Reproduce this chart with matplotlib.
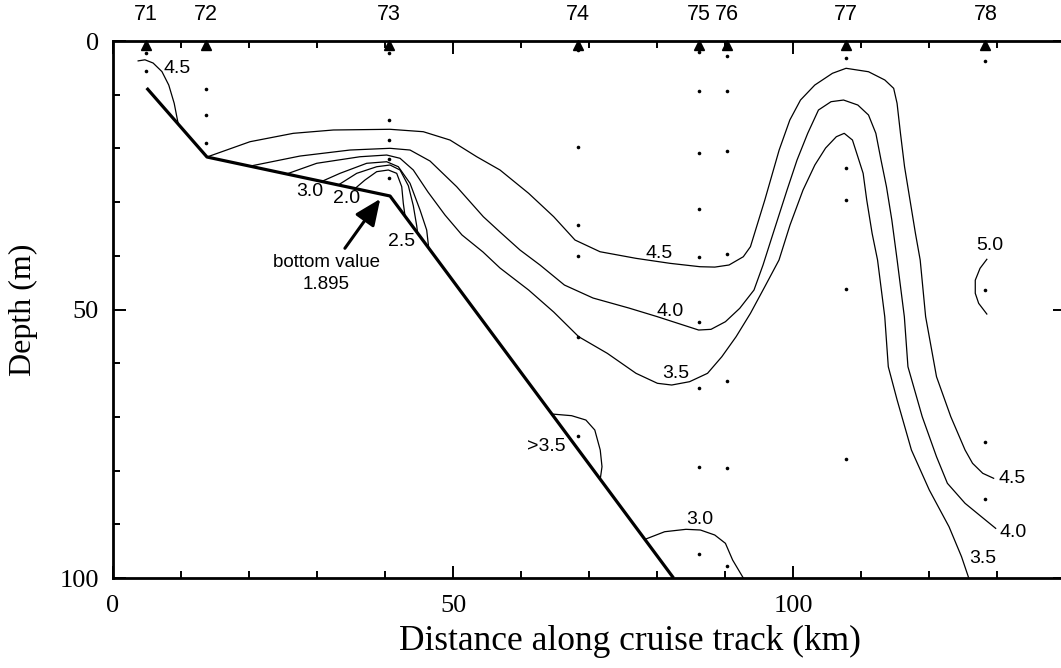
import matplotlib.pyplot as plt
from matplotlib.ticker import MultipleLocator, FixedLocator

plt.rcParams['font.family'] = 'Liberation Serif'

# stations along the track (km) and their sample depths (m)
stations = ['71', '72', '73', '74', '75', '76', '77', '78']
station_km = [4.85, 13.7, 40.6, 68.4, 86.2, 90.3, 107.8, 128.3]
sample_depths = [
    [2.3, 5.5],
    [1.1, 9.0, 13.8, 18.9],
    [2.3, 14.7, 18.4, 22.0, 25.5],
    [1.7, 19.7, 34.3, 40.0, 55.2, 73.5],
    [2.0, 9.3, 20.9, 31.3, 40.2, 52.4, 64.6, 79.4, 95.5],
    [2.8, 9.3, 20.5, 39.7, 63.3, 79.6, 97.7],
    [3.2, 23.7, 29.6, 46.1, 77.8],
    [3.7, 46.4, 74.7, 85.2],
]

# bottom profile
bottom_km = [4.95, 13.82, 40.74, 82.43]
bottom_m = [8.75, 21.6, 28.86, 100.0]

# hand drawn isolines (km, m)
c45_shelf_km = [3.7, 4.7, 5.9, 7.2, 8.2, 9.0, 9.6]
c45_shelf_m = [3.7, 3.5, 4.1, 5.7, 8.2, 11.6, 15.5]

c45_km = [13.82, 20.15, 26.51, 32.4, 40.74, 45.63, 49.56, 53.49, 56.91, 61.12,
          64.81, 67.94, 71.62, 76.91, 81.91, 86.32, 88.5, 90.59, 92.69, 93.74,
          95.85, 97.96, 99.53, 101.1, 103.2, 105.8, 107.8, 111.1, 113.5, 114.8,
          115.3, 115.8, 116.4, 117.2, 118.0, 118.7, 119.5, 121.1, 123.2, 125.3,
          126.4, 127.9, 129.5]
c45_m = [21.6, 18.75, 17.19, 16.57, 16.44, 16.89, 18.44, 21.55, 24.02, 28.36,
         32.72, 37.06, 39.24, 40.47, 41.4, 42.03, 42.1, 41.71, 40.17, 38.3,
         29.61, 20.3, 14.71, 10.99, 8.2, 6.01, 5.08, 5.72, 7.26, 8.81,
         11.6, 17.19, 23.4, 29.61, 35.81, 40.78, 51.33, 62.51, 69.96, 76.16,
         78.64, 80.5, 81.43]

c40_km = [20.15, 27.5, 34.85, 40.74, 43.68, 46.62, 50.54, 54.46, 56.91, 59.85,
          62.79, 66.38, 70.59, 75.85, 80.06, 86.12, 87.94, 90.06, 92.16, 94.26,
          95.59, 96.76, 97.94, 99.12, 100.59, 102.16, 103.74, 105.59, 107.43, 109.53,
          111.1, 112.18, 112.94, 113.74, 114.53, 115.31, 116.37, 116.9, 119.0, 121.1,
          122.7, 125.3, 127.7, 129.8]
c40_m = [23.3, 21.42, 20.3, 19.98, 20.3, 22.35, 27.13, 32.72, 35.57, 38.92,
         41.71, 45.44, 47.86, 49.72, 51.34, 53.82, 53.69, 52.27, 49.78, 46.37,
         41.71, 37.06, 32.4, 27.75, 22.16, 17.19, 12.85, 11.3, 10.99, 11.92,
         13.78, 17.19, 22.16, 27.13, 33.33, 40.78, 51.34, 60.65, 69.96, 77.41,
         82.36, 86.09, 88.58, 90.75]

c35_km = [25.54, 29.96, 36.32, 40.25, 42.21, 44.16, 46.32, 48.82, 51.32, 54.41,
          56.91, 61.12, 64.81, 68.48, 72.69, 76.91, 80.06, 82.16, 84.79, 87.43,
          89.53, 91.63, 93.74, 95.85, 97.94, 99.56, 101.47, 103.21, 104.79, 106.37,
          107.53, 108.74, 109.53, 110.31, 110.84, 111.63, 112.43, 113.49, 114.01, 115.31,
          117.41, 120.04, 122.94, 124.78, 125.84]
c35_m = [24.76, 22.77, 21.55, 21.23, 21.84, 24.02, 28.12, 32.4, 36.12, 39.29,
         42.27, 46.37, 50.47, 55.06, 58.16, 61.88, 63.74, 64.06, 63.44, 61.88,
         58.79, 55.06, 50.71, 45.75, 40.78, 34.26, 27.75, 23.09, 19.93, 17.82,
         17.19, 18.44, 21.55, 24.64, 29.61, 35.81, 40.78, 51.34, 60.65, 66.85,
         76.16, 83.61, 90.45, 96.03, 100.0]

c30_km = [30.69, 33.38, 37.31, 40.25, 41.96, 43.68, 45.15, 46.13, 46.45]
c30_m = [26.15, 24.64, 22.77, 22.48, 23.41, 26.5, 31.47, 35.2, 38.8]

c25_km = [33.13, 35.84, 38.78, 40.74, 42.21, 43.43, 44.16, 44.66, 44.8]
c25_m = [26.81, 24.64, 23.41, 23.09, 24.02, 26.94, 30.66, 34.4, 35.8]

c20_km = [35.59, 37.06, 38.78, 40.49, 41.72, 42.46, 42.69, 42.95]
c20_m = [27.47, 25.88, 24.33, 24.02, 24.64, 27.13, 30.22, 32.6]

c35_pocket_km = [64.54, 67.44, 69.54, 70.85, 71.65, 71.91, 71.65]
c35_pocket_m = [69.46, 69.77, 70.58, 72.44, 76.16, 79.27, 81.6]

c30_pocket_km = [78.22, 81.12, 84.26, 86.38, 88.49, 90.06, 91.12, 92.69]
c30_pocket_m = [92.8, 91.38, 90.93, 91.06, 91.99, 93.54, 96.65, 100.0]

c50_km = [128.5, 127.5, 126.8, 126.8, 127.3, 128.5]
c50_m = [40.65, 42.33, 44.54, 46.98, 48.85, 50.84]

# isoline labels
label_text = ['4.5', '3.0', '2.0', '2.5', '4.5', '4.0', '3.5', '>3.5', '3.0',
              '5.0', '4.5', '4.0', '3.5']
label_km = [9.4, 29.0, 34.4, 42.5, 80.3, 81.9, 82.7, 63.75, 86.3,
            128.9, 132.2, 132.4, 127.9]
label_m = [5.1, 28.1, 29.4, 37.4, 39.5, 50.4, 61.9, 75.55, 89.1,
           38.0, 81.4, 91.6, 96.3]

note_lines = ['bottom value', '1.895']
note_km = 31.4
note_m = [41.3, 45.4]

fig = plt.figure(figsize=(10.61, 6.68), dpi=100)
ax = fig.add_axes([0.1065, 0.1347, 0.8973, 0.8039])

thin = dict(color='black', lw=0.9, solid_joinstyle='round')
for xs, ds in [(c45_shelf_km, c45_shelf_m), (c45_km, c45_m), (c40_km, c40_m),
               (c35_km, c35_m), (c30_km, c30_m), (c25_km, c25_m), (c20_km, c20_m),
               (c35_pocket_km, c35_pocket_m), (c30_pocket_km, c30_pocket_m),
               (c50_km, c50_m)]:
    ax.plot(xs, ds, **thin)

ax.plot(bottom_km, bottom_m, color='black', lw=2.3, solid_capstyle='butt')

# samples
for km, ds in zip(station_km, sample_depths):
    ax.plot([km] * len(ds), ds, 'o', color='black', ms=2.6, mew=0)

# station markers and names
ax.plot(station_km, [0.8] * len(station_km), '^', color='black', ms=6.5,
        clip_on=False, zorder=5)
for km, name in zip(station_km, stations):
    ax.text(km, -5.0, name, ha='center', va='center', fontsize=15.5,
            family='Liberation Sans', clip_on=False)

for t, km, d in zip(label_text, label_km, label_m):
    ax.text(km, d, t, ha='center', va='center', fontsize=14, family='Liberation Sans')
for t, d in zip(note_lines, note_m):
    ax.text(note_km, d, t, ha='center', va='center', fontsize=13.5,
            family='Liberation Sans')

ax.annotate('', xy=(39.3, 29.4), xytext=(34.1, 38.6),
            arrowprops=dict(arrowstyle='-|>,head_length=0.8,head_width=0.35',
                            color='black', lw=2.2, mutation_scale=20,
                            shrinkA=0, shrinkB=0))

ax.set_xlim(0, 140)
ax.set_ylim(100, 0)
ax.xaxis.set_major_locator(FixedLocator([0, 50, 100]))
ax.xaxis.set_minor_locator(MultipleLocator(10))
ax.yaxis.set_major_locator(FixedLocator([0, 50, 100]))
ax.yaxis.set_minor_locator(MultipleLocator(10))
ax.tick_params(which='both', direction='in', top=True, right=True, width=1.4,
               labelsize=19)
ax.tick_params(which='major', length=9)
ax.tick_params(which='minor', length=5, right=False)
ax.tick_params(axis='x', pad=12)
ax.tick_params(axis='y', pad=10)
for s in ax.spines.values():
    s.set_linewidth(2.0)

ax.set_xlabel('Distance along cruise track (km)', fontsize=25.5, ha='left')
ax.xaxis.set_label_coords(0.3, -0.088)
ax.set_ylabel('Depth (m)', fontsize=23)
ax.yaxis.set_label_coords(-0.079, 0.5)

fig.savefig('out.png', dpi=100)
